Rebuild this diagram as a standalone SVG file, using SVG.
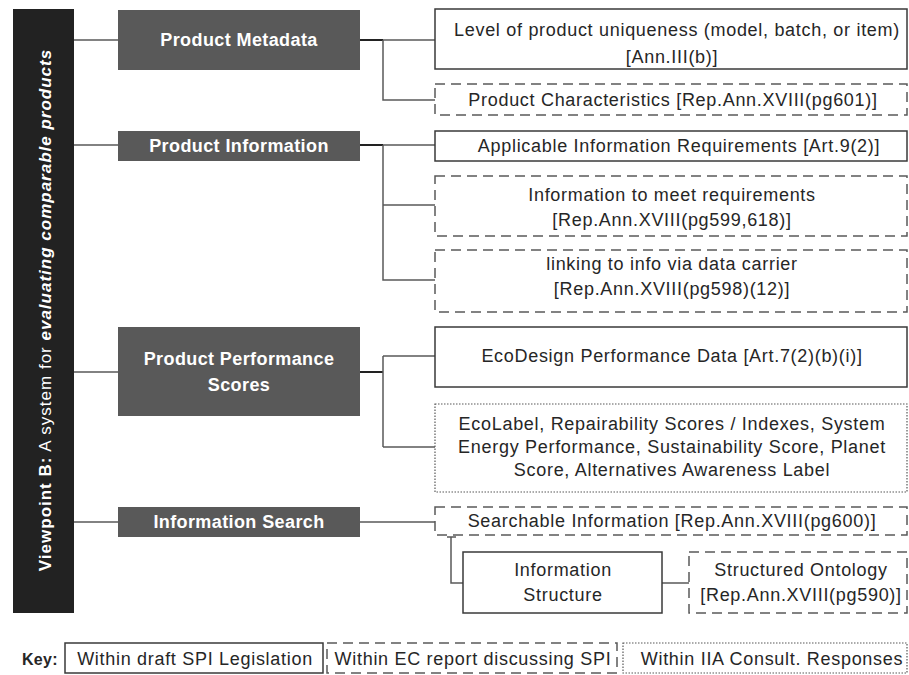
<svg xmlns="http://www.w3.org/2000/svg" width="909" height="675" viewBox="0 0 909 675">
<style>
text{font-family:"Liberation Sans",Arial,sans-serif;fill:#262626;font-size:18px;letter-spacing:0.7px}
.hd{fill:#ffffff;font-weight:bold;font-size:18px;letter-spacing:0.4px;text-anchor:middle}
.c{text-anchor:middle}
.gbox{fill:#595959}
.solid{fill:#ffffff;stroke:#3a3a3a;stroke-width:1.5}
.dash{fill:#ffffff;stroke:#595959;stroke-width:1.5;stroke-dasharray:10 6}
.dot{fill:#ffffff;stroke:#595959;stroke-width:1.2;stroke-dasharray:1.5 1.5}
.ln{fill:none;stroke:#595959;stroke-width:1.5}
.dk{fill:none;stroke:#222222;stroke-width:2}
</style>
<rect width="909" height="675" fill="#ffffff"/>
<g id="viewpoint">
<rect x="13" y="9" width="61" height="604" fill="#222222"/>
<text transform="translate(51,310) rotate(-90)" text-anchor="middle" style="fill:#ffffff;font-size:17px;letter-spacing:1px"><tspan font-weight="bold">Viewpoint B:</tspan> A system for <tspan font-weight="bold" font-style="italic">evaluating comparable products</tspan></text>
</g>
<g id="connectors">
<path class="ln" d="M74,40H118M74,145H118M74,372H118M74,522H118"/>
<path class="dk" d="M360,40H383M360,145H383M360,372H383"/>
<path class="ln" d="M383,40H435M383,40V100H435"/>
<path class="ln" d="M383,145H435M383,145V280H435M383,205H435"/>
<path class="ln" d="M383,356V447M383,356H435M383,447H435"/>
<path class="ln" d="M360,522H435"/>
<path class="ln" d="M447,537H456M451,537V583H463"/>
<path class="ln" d="M662,583H689"/>
</g>
<g id="product-metadata">
<rect class="gbox" x="118" y="10" width="242" height="60"/>
<text class="hd" x="239" y="46">Product Metadata</text>
</g>
<g id="product-information">
<rect class="gbox" x="118" y="131" width="242" height="30"/>
<text class="hd" x="239" y="152">Product Information</text>
</g>
<g id="product-performance-scores">
<rect class="gbox" x="118" y="327" width="242" height="89"/>
<text class="hd" x="239" y="365">Product Performance</text>
<text class="hd" x="239" y="391">Scores</text>
</g>
<g id="information-search">
<rect class="gbox" x="118" y="507" width="242" height="30"/>
<text class="hd" x="239" y="528">Information Search</text>
</g>
<g id="level-uniqueness">
<rect class="solid" x="435" y="9" width="472" height="60"/>
<text class="c" x="677" y="36">Level of product uniqueness (model, batch, or item)</text>
<text class="c" x="672" y="63">[Ann.III(b)]</text>
</g>
<g id="product-characteristics">
<rect class="dash" x="435" y="84" width="472" height="31"/>
<text class="c" x="673" y="106">Product Characteristics [Rep.Ann.XVIII(pg601)]</text>
</g>
<g id="applicable-info">
<rect class="solid" x="435" y="131" width="472" height="30"/>
<text class="c" x="679" y="152">Applicable Information Requirements [Art.9(2)]</text>
</g>
<g id="info-meet-req">
<rect class="dash" x="435" y="176" width="472" height="60"/>
<text class="c" x="672" y="201">Information to meet requirements</text>
<text class="c" x="672" y="226">[Rep.Ann.XVIII(pg599,618)]</text>
</g>
<g id="linking-info">
<rect class="dash" x="435" y="250" width="472" height="62"/>
<text class="c" x="672" y="270">linking to info via data carrier</text>
<text class="c" x="672" y="295">[Rep.Ann.XVIII(pg598)(12)]</text>
</g>
<g id="ecodesign">
<rect class="solid" x="435" y="327" width="472" height="60"/>
<text class="c" x="672" y="362">EcoDesign Performance Data [Art.7(2)(b)(i)]</text>
</g>
<g id="ecolabel">
<rect class="dot" x="435" y="404" width="472" height="88"/>
<text class="c" x="672" y="430">EcoLabel, Repairability Scores / Indexes, System</text>
<text class="c" x="672" y="453">Energy Performance, Sustainability Score, Planet</text>
<text class="c" x="672" y="476">Score, Alternatives Awareness Label</text>
</g>
<g id="searchable-info">
<rect class="dash" x="435" y="507" width="472" height="28"/>
<text class="c" x="672" y="527">Searchable Information [Rep.Ann.XVIII(pg600)]</text>
</g>
<g id="information-structure">
<rect class="solid" x="463" y="552" width="199" height="61"/>
<text class="c" x="563" y="576">Information</text>
<text class="c" x="563" y="601">Structure</text>
</g>
<g id="structured-ontology">
<rect class="dash" x="689" y="552" width="218" height="61"/>
<text class="c" x="801" y="576">Structured Ontology</text>
<text class="c" x="801" y="601">[Rep.Ann.XVIII(pg590)]</text>
</g>
<g id="key">
<text x="22" y="665" style="font-weight:bold;font-size:16px;letter-spacing:0.3px">Key:</text>
<rect class="solid" x="65" y="643" width="258" height="30"/>
<text class="c" x="195" y="665">Within draft SPI Legislation</text>
<rect class="dash" x="327" y="643" width="290" height="30"/>
<text class="c" x="473" y="665">Within EC report discussing SPI</text>
<rect class="dot" x="623" y="643" width="284" height="30"/>
<text class="c" x="772" y="665">Within IIA Consult. Responses</text>
</g>
</svg>
